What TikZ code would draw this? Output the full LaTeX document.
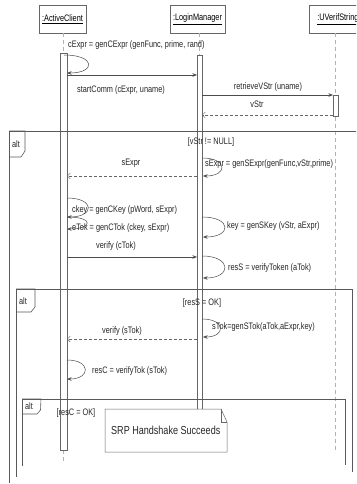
\documentclass[tikz,border=0pt]{standalone}
\usepackage{fontspec}
\setmainfont{Liberation Sans}[FakeStretch=0.78]
\usetikzlibrary{arrows.meta}
\tikzset{
  lbl/.style={font=\fontsize{9.4}{11}\selectfont, inner sep=0pt, text=black!85},
  big/.style={font=\fontsize{11.6}{13}\selectfont, inner sep=0pt, text=black!85},
  obj/.style={draw=black!60, fill=white, minimum height=28pt, inner sep=0pt, font=\fontsize{9.4}{11}\selectfont},
  msg/.style={draw=black!70, line width=0.5pt, -{Stealth[length=4.5pt,width=3.5pt]}},
  ret/.style={draw=black!60, line width=0.5pt, dash pattern=on 3pt off 2pt, -{Straight Barb[length=3pt,width=6pt]}},
  life/.style={draw=black!30, line width=0.6pt, dash pattern=on 4pt off 3pt},
  actbar/.style={draw=black!60, fill=white, line width=0.5pt},
  frm/.style={draw=black!65, line width=0.6pt},
}
\begin{document}
\begin{tikzpicture}[x=1pt,y=-1pt]
\useasboundingbox (0,0) rectangle (356,484);
\clip (0,0) rectangle (356,484);
\fill[white] (0,0) rectangle (356,484);

% objects
\node[obj, minimum width=47pt] (ac) at (62.5,19) {\underline{:ActiveClient}};
\node[obj, minimum width=55pt] (lm) at (197.5,19) {\underline{:LoginManager}};
\node[obj, minimum width=58pt, anchor=west] (uv) at (309,19) {\hspace*{3pt}\underline{:UVerifStrings}\hfill};

% lifelines
\coordinate (acT) at (63,33);
\coordinate (acB) at (63,53);
\coordinate (acE) at (63,450);
\coordinate (acX) at (63,462);
\draw[life] (acT) -- (acB);
\draw[life] (acE) -- (acX);
\draw[actbar] (60,53) rectangle (67,450);

\coordinate (lmT) at (199.5,33);
\coordinate (lmB) at (199.5,55);
\draw[life] (lmT) -- (lmB);
\draw[actbar] (197,55) rectangle (202,440);

\coordinate (uvT) at (335.5,33);
\coordinate (uvX) at (335.5,453);
\draw[life] (uvT) -- (uvX);
\draw[actbar] (333,95) rectangle (338,116);

% frames
\coordinate (f1a) at (9,483);
\coordinate (f1b) at (9,131);
\coordinate (f1c) at (360,131);
\draw[frm] (f1a) -- (f1b) -- (f1c);
\draw[frm] (9,131) -- (25,131) -- (25,151) -- (21,157) -- (9,157);
\node[lbl] (alt1) at (16,144) {alt};

\coordinate (f2a) at (16,477);
\coordinate (f2b) at (16,289);
\coordinate (f2c) at (352,289);
\coordinate (f2d) at (352,472);
\draw[frm] (f2a) -- (f2b) -- (f2c) -- (f2d);
\draw[frm] (16,289) -- (35,289) -- (35,307) -- (31,312) -- (16,312);
\node[lbl] (alt2) at (23,301) {alt};

\coordinate (f3a) at (22,466);
\coordinate (f3b) at (22,399);
\coordinate (f3c) at (345,399);
\coordinate (f3d) at (345,465);
\draw[frm] (f3a) -- (f3b) -- (f3c) -- (f3d);
\draw[frm] (22,399) -- (41,399) -- (40.5,410) -- (37,414) -- (22,414);
\node[lbl] (alt3) at (29,406) {alt};

% guards
\node[lbl] (g1) at (211,142) {[vStr != NULL]};
\node[lbl] (g2) at (202,303) {[resS = OK]};
\node[lbl] (g3) at (76,413) {[resC = OK]};

% messages
\coordinate (m1s) at (64,55);
\coordinate (m1e) at (67,73);
\draw[msg] (m1s) .. controls (96,55) and (96,73) .. (m1e);
\node[lbl, anchor=west] (t1) at (68,45) {cExpr = genCExpr (genFunc, prime, rand)};

\coordinate (m2s) at (67,75);
\coordinate (m2e) at (197,75);
\draw[msg] (m2s) -- (m2e);
\node[lbl, anchor=west] (t2) at (77,90) {startComm (cExpr, uname)};

\coordinate (m3s) at (202,95);
\coordinate (m3e) at (333,95);
\draw[msg] (m3s) -- (m3e);
\node[lbl] (t3) at (268,87) {retrieveVStr (uname)};

\coordinate (m4s) at (333,115);
\coordinate (m4e) at (202,115);
\draw[ret] (m4s) -- (m4e);
\node[lbl] (t4) at (257,104) {vStr};

\coordinate (m5s) at (202,158);
\coordinate (m5e) at (203,176);
\draw[msg] (m5s) .. controls (228,158) and (228,176) .. (m5e);
\node[lbl, anchor=west] (t5) at (205,164) {sExpr = genSExpr(genFunc,vStr,prime)};

\coordinate (m6s) at (197,176);
\coordinate (m6e) at (67,176);
\draw[ret] (m6s) -- (m6e);
\node[lbl] (t6) at (131,163) {sExpr};

\coordinate (m7s) at (67,198);
\coordinate (m7e) at (67,217);
\draw[msg] (m7s) .. controls (95,198) and (95,217) .. (m7e);
\node[lbl, anchor=west] (t7) at (72,210) {ckey = genCKey (pWord, sExpr)};

\coordinate (m8s) at (67,217);
\coordinate (m8e) at (67,229);
\draw[msg] (m8s) .. controls (95,217) and (92,229) .. (m8e);
\node[lbl, anchor=west] (t8) at (72,228) {eTok = genCTok (ckey, sExpr)};

\coordinate (m9s) at (67,257);
\coordinate (m9e) at (197,257);
\draw[msg] (m9s) -- (m9e);
\node[lbl] (t9) at (116,246) {verify (cTok)};

\coordinate (m10s) at (202,217);
\coordinate (m10e) at (203,237);
\draw[msg] (m10s) .. controls (232,217) and (232,237) .. (m10e);
\node[lbl, anchor=west] (t10) at (227,226) {key = genSKey (vStr, aExpr)};

\coordinate (m11s) at (202,256);
\coordinate (m11e) at (203,278);
\draw[msg] (m11s) .. controls (232,256) and (232,278) .. (m11e);
\node[lbl, anchor=west] (t11) at (228,268) {resS = verifyToken (aTok)};

\coordinate (m12s) at (202,319);
\coordinate (m12e) at (203,337);
\draw[msg] (m12s) .. controls (226,319) and (226,337) .. (m12e);
\node[lbl, anchor=west] (t12) at (212,327) {sTok=genSTok(aTok,aExpr,key)};

\coordinate (m13s) at (197,339);
\coordinate (m13e) at (67,339);
\draw[ret] (m13s) -- (m13e);
\node[lbl] (t13) at (122,331) {verify (sTok)};

\coordinate (m14s) at (67,360);
\coordinate (m14e) at (67,379);
\draw[msg] (m14s) .. controls (91,360) and (91,379) .. (m14e);
\node[lbl, anchor=west] (t14) at (92,371) {resC = verifyTok (sTok)};

% note
\draw[draw=black!60, fill=white, line width=0.5pt] (105,409) -- (221,409) -- (227,422) -- (227,452) -- (105,452) -- cycle;
\draw[draw=black!60, line width=0.5pt] (221,409) -- (221,422) -- (227,422);
\node[big, anchor=west] (note) at (111,430) {SRP Handshake Succeeds};
\end{tikzpicture}
\end{document}
